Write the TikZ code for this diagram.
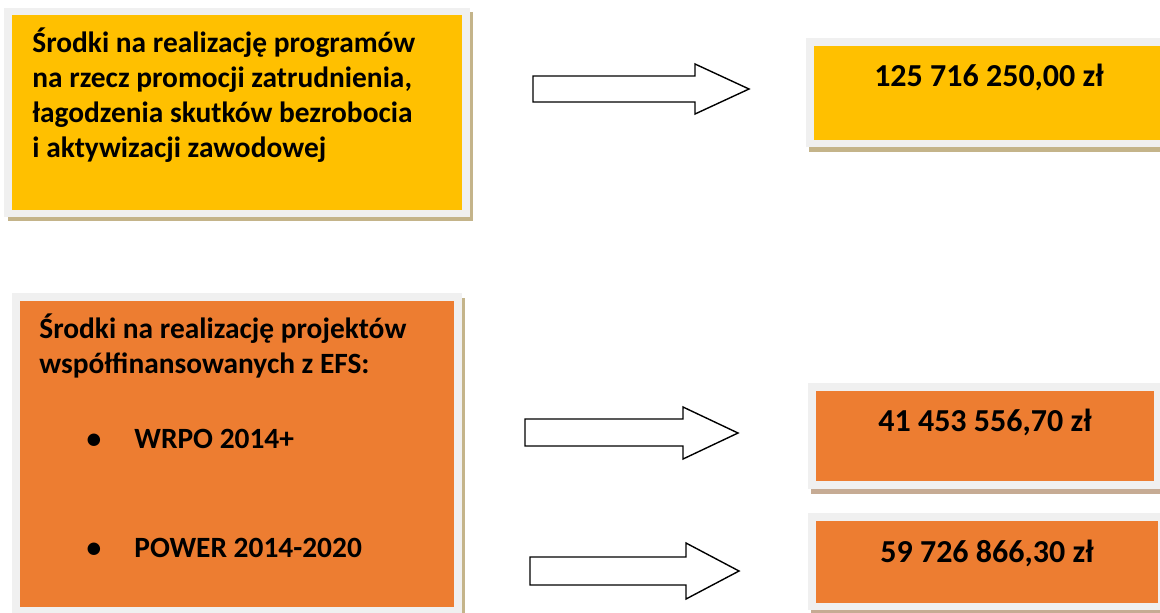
\documentclass[tikz,border=0pt]{standalone}
\usepackage{fontspec}
\setmainfont{Carlito}
\usetikzlibrary{positioning}
\definecolor{myellow}{HTML}{FFC000}
\definecolor{morange}{HTML}{ED7D31}
\definecolor{mframe}{HTML}{F0F0F0}
\definecolor{mshadowa}{HTML}{C4B48A}
\definecolor{mshadowb}{HTML}{C6AB94}

\begin{document}
\begin{tikzpicture}[x=0.5pt, y=-0.5pt,
    label text/.style={font=\fontsize{14.7}{17.5}\selectfont\bfseries, inner sep=0},
    sum text/.style={font=\fontsize{16}{19}\selectfont\bfseries, inner sep=0},
    block arrow/.style={draw=black, fill=white, line width=0.7pt, line join=miter}]
    \clip (0, 0) rectangle (1160, 612);

    % programy
    \fill [mshadowa] (8, 12) rectangle (473, 221);
    \fill [mframe] (4, 8) rectangle (470, 217);
    \fill [myellow] (12, 15) rectangle (462, 210);
    \node [label text, anchor=base west, align=left] (programs) at (32, 157)
      {Środki na realizację programów\\na rzecz promocji zatrudnienia,\\łagodzenia skutków bezrobocia\\i aktywizacji zawodowej};

    \fill [mshadowa] (809, 42) rectangle (1165, 152);
    \fill [mframe] (806, 38) rectangle (1165, 147);
    \fill [myellow] (814, 46) rectangle (1165, 140);
    \node [sum text, anchor=base] (sumprog) at (989, 86) {125 716 250,00 zł};

    % projekty EFS
    \fill [mshadowa] (16, 298) rectangle (465, 620);
    \fill [mframe] (12, 293) rectangle (462, 620);
    \fill [morange] (20, 301) rectangle (454, 607);
    \node [label text, anchor=base west, align=left] (projects) at (39, 373)
      {Środki na realizację projektów\\współfinansowanych z EFS:};
    \node [label text, anchor=base] (dotwrpo) at (94, 448) {•};
    \node [label text, anchor=base west] (wrpo) at (134, 448) {WRPO 2014+};
    \node [label text, anchor=base] (dotpower) at (94, 557) {•};
    \node [label text, anchor=base west] (power) at (134, 557) {POWER 2014-2020};

    \fill [mshadowb] (811, 387) rectangle (1165, 494);
    \fill [mframe] (808, 383) rectangle (1161, 489);
    \fill [morange] (816, 391) rectangle (1154, 481);
    \node [sum text, anchor=base] (sumwrpo) at (985, 431) {41 453 556,70 zł};

    \fill [mshadowb] (811, 517) rectangle (1165, 615);
    \fill [mframe] (808, 513) rectangle (1165, 610);
    \fill [morange] (816, 521) rectangle (1158, 603);
    \node [sum text, anchor=base] (sumpower) at (987, 562) {59 726 866,30 zł};

    % strzalki
    \draw [block arrow] (533, 76) -- (695, 76) -- (695, 64) -- (749, 89) -- (695, 114) -- (695, 102) -- (533, 102) -- cycle;
    \draw [block arrow] (525, 419) -- (683, 419) -- (683, 407) -- (738, 433) -- (683, 459) -- (683, 446) -- (525, 446) -- cycle;
    \draw [block arrow] (530, 557) -- (686, 557) -- (686, 543) -- (739, 571) -- (686, 599) -- (686, 585) -- (530, 585) -- cycle;
\end{tikzpicture}
\end{document}
